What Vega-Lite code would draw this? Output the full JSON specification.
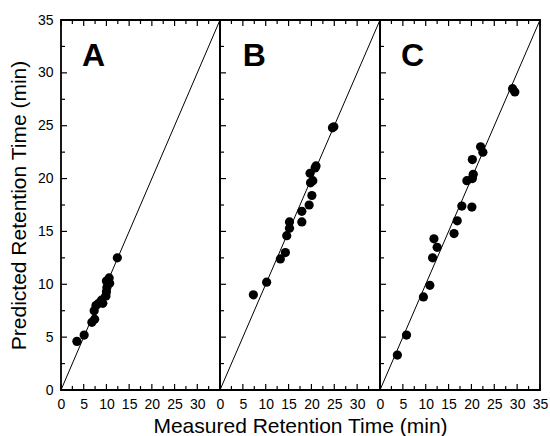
{
  "$schema": "https://vega.github.io/schema/vega-lite/v6.json",
  "background": "white",
  "padding": {"left": 7, "top": 12, "right": 2, "bottom": 4},
  "spacing": 0,
  "bounds": "flush",
  "config": {
    "view": {"stroke": "black", "strokeWidth": 1.8},
    "axis": {
      "domain": false, "grid": false, "ticks": false, "tickSize": 0, "labelFont": "Liberation Sans", "labelFontSize": 14,
      "labelColor": "black", "titleFont": "Liberation Sans", "titleFontSize": 21,
      "titleFontWeight": "normal", "titleColor": "black", "labelOverlap": false, "labelFlush": false
    },
    "point": {"filled": false, "stroke": "black", "strokeWidth": 1.2, "opacity": 1}
  },
  "datasets": {
    "points": [
      {"panel": "A", "measured": 3.5, "predicted": 4.6},
      {"panel": "A", "measured": 5.1, "predicted": 5.2},
      {"panel": "A", "measured": 6.8, "predicted": 6.4},
      {"panel": "A", "measured": 7.4, "predicted": 6.7},
      {"panel": "A", "measured": 7.3, "predicted": 7.5},
      {"panel": "A", "measured": 7.7, "predicted": 8.0},
      {"panel": "A", "measured": 8.3, "predicted": 8.2},
      {"panel": "A", "measured": 8.9, "predicted": 8.5},
      {"panel": "A", "measured": 9.2, "predicted": 8.2},
      {"panel": "A", "measured": 9.9, "predicted": 8.9},
      {"panel": "A", "measured": 10.0, "predicted": 9.3},
      {"panel": "A", "measured": 10.1, "predicted": 9.7},
      {"panel": "A", "measured": 10.0, "predicted": 10.3},
      {"panel": "A", "measured": 10.6, "predicted": 10.6},
      {"panel": "A", "measured": 10.7, "predicted": 10.1},
      {"panel": "A", "measured": 12.4, "predicted": 12.5},
      {"panel": "B", "measured": 7.3, "predicted": 9.0},
      {"panel": "B", "measured": 10.2, "predicted": 10.2},
      {"panel": "B", "measured": 13.2, "predicted": 12.4},
      {"panel": "B", "measured": 14.3, "predicted": 13.0},
      {"panel": "B", "measured": 14.6, "predicted": 14.6},
      {"panel": "B", "measured": 15.2, "predicted": 15.3},
      {"panel": "B", "measured": 15.2, "predicted": 15.9},
      {"panel": "B", "measured": 17.9, "predicted": 15.9},
      {"panel": "B", "measured": 17.9, "predicted": 16.9},
      {"panel": "B", "measured": 19.5, "predicted": 17.5},
      {"panel": "B", "measured": 20.1, "predicted": 18.4},
      {"panel": "B", "measured": 19.8, "predicted": 19.6},
      {"panel": "B", "measured": 20.3, "predicted": 19.8},
      {"panel": "B", "measured": 19.7, "predicted": 20.5},
      {"panel": "B", "measured": 20.8, "predicted": 21.0},
      {"panel": "B", "measured": 21.0, "predicted": 21.2},
      {"panel": "B", "measured": 24.6, "predicted": 24.8},
      {"panel": "B", "measured": 24.9, "predicted": 24.9},
      {"panel": "C", "measured": 3.8, "predicted": 3.3},
      {"panel": "C", "measured": 5.8, "predicted": 5.2},
      {"panel": "C", "measured": 9.5, "predicted": 8.8},
      {"panel": "C", "measured": 10.9, "predicted": 9.9},
      {"panel": "C", "measured": 11.5, "predicted": 12.5},
      {"panel": "C", "measured": 12.5, "predicted": 13.5},
      {"panel": "C", "measured": 11.8, "predicted": 14.3},
      {"panel": "C", "measured": 16.2, "predicted": 14.8},
      {"panel": "C", "measured": 16.9, "predicted": 16.0},
      {"panel": "C", "measured": 17.9, "predicted": 17.4},
      {"panel": "C", "measured": 20.1, "predicted": 17.3},
      {"panel": "C", "measured": 19.0, "predicted": 19.8},
      {"panel": "C", "measured": 20.2, "predicted": 20.0},
      {"panel": "C", "measured": 20.4, "predicted": 20.4},
      {"panel": "C", "measured": 20.2, "predicted": 21.8},
      {"panel": "C", "measured": 22.0, "predicted": 23.0},
      {"panel": "C", "measured": 22.5, "predicted": 22.5},
      {"panel": "C", "measured": 29.0, "predicted": 28.5},
      {"panel": "C", "measured": 29.5, "predicted": 28.2}
    ],
    "diag": [{"t": 0}, {"t": 35}],
    "letters": [{"panel": "A"}, {"panel": "B"}, {"panel": "C"}],
    "major": [{"v": 0}, {"v": 5}, {"v": 10}, {"v": 15}, {"v": 20}, {"v": 25}, {"v": 30}, {"v": 35}],
    "minor": [{"v": 2.5}, {"v": 7.5}, {"v": 12.5}, {"v": 17.5}, {"v": 22.5}, {"v": 27.5}, {"v": 32.5}]
  },
  "hconcat": [
    {
      "width": 159, "height": 370,
      "resolve": {"axis": {"x": "independent", "y": "independent"}},
      "layer": [
        {
          "data": {"name": "diag"},
          "mark": {"type": "line", "color": "black", "strokeWidth": 1},
          "encoding": {
            "x": {"field": "t", "type": "quantitative", "scale": {"domain": [0, 35], "nice": false}, "axis": null},
            "y": {"field": "t", "type": "quantitative", "scale": {"domain": [0, 35], "nice": false},
              "axis": {"values": [0, 5, 10, 15, 20, 25, 30, 35], "labelPadding": 8, "titlePadding": 8, "title": "Predicted Retention Time (min)"}}
          }
        },
        {
          "data": {"name": "points"},
          "transform": [{"filter": "datum.panel === 'A'"}],
          "mark": {"type": "circle", "size": 85, "color": "black", "opacity": 1},
          "encoding": {
            "x": {"field": "measured", "type": "quantitative",
              "axis": {"orient": "bottom", "values": [0, 5, 10, 15, 20, 25, 30], "labelPadding": 7, "title": null}},
            "y": {"field": "predicted", "type": "quantitative", "axis": null}
          }
        },
        {
          "data": {"name": "letters"},
          "transform": [{"filter": "datum.panel === 'A'"}],
          "mark": {"type": "text", "font": "Liberation Sans", "fontSize": 32, "fontWeight": "bold", "align": "left", "baseline": "middle", "color": "black"},
          "encoding": {
            "x": {"datum": 4.6, "type": "quantitative", "axis": null},
            "y": {"datum": 31.6, "type": "quantitative", "axis": null},
            "text": {"field": "panel"}
          }
        },
        {"data": {"name": "major"}, "mark": {"type": "point", "shape": "M0,0L0,-1", "size": 144}, "encoding": {"x": {"field": "v", "type": "quantitative", "axis": null}, "y": {"datum": 0, "type": "quantitative", "axis": null}}},
        {"data": {"name": "minor"}, "mark": {"type": "point", "shape": "M0,0L0,-1", "size": 64}, "encoding": {"x": {"field": "v", "type": "quantitative", "axis": null}, "y": {"datum": 0, "type": "quantitative", "axis": null}}},
        {"data": {"name": "major"}, "mark": {"type": "point", "shape": "M0,0L0,1", "size": 144}, "encoding": {"x": {"field": "v", "type": "quantitative", "axis": null}, "y": {"datum": 35, "type": "quantitative", "axis": null}}},
        {"data": {"name": "minor"}, "mark": {"type": "point", "shape": "M0,0L0,1", "size": 64}, "encoding": {"x": {"field": "v", "type": "quantitative", "axis": null}, "y": {"datum": 35, "type": "quantitative", "axis": null}}},
        {"data": {"name": "major"}, "mark": {"type": "point", "shape": "M0,0L1,0", "size": 144}, "encoding": {"y": {"field": "v", "type": "quantitative", "axis": null}, "x": {"datum": 0, "type": "quantitative", "axis": null}}},
        {"data": {"name": "minor"}, "mark": {"type": "point", "shape": "M0,0L1,0", "size": 64}, "encoding": {"y": {"field": "v", "type": "quantitative", "axis": null}, "x": {"datum": 0, "type": "quantitative", "axis": null}}}
      ]
    },
    {
      "width": 160, "height": 370,
      "resolve": {"axis": {"x": "independent", "y": "independent"}},
      "layer": [
        {
          "data": {"name": "diag"},
          "mark": {"type": "line", "color": "black", "strokeWidth": 1},
          "encoding": {
            "x": {"field": "t", "type": "quantitative", "scale": {"domain": [0, 35], "nice": false}, "axis": null},
            "y": {"field": "t", "type": "quantitative", "scale": {"domain": [0, 35], "nice": false}, "axis": null}
          }
        },
        {
          "data": {"name": "points"},
          "transform": [{"filter": "datum.panel === 'B'"}],
          "mark": {"type": "circle", "size": 85, "color": "black", "opacity": 1},
          "encoding": {
            "x": {"field": "measured", "type": "quantitative",
              "axis": {"orient": "bottom", "values": [0, 5, 10, 15, 20, 25, 30], "labelPadding": 7, "titlePadding": 4, "title": "Measured Retention Time (min)"}},
            "y": {"field": "predicted", "type": "quantitative", "axis": null}
          }
        },
        {
          "data": {"name": "letters"},
          "transform": [{"filter": "datum.panel === 'B'"}],
          "mark": {"type": "text", "font": "Liberation Sans", "fontSize": 32, "fontWeight": "bold", "align": "left", "baseline": "middle", "color": "black"},
          "encoding": {
            "x": {"datum": 5.0, "type": "quantitative", "axis": null},
            "y": {"datum": 31.6, "type": "quantitative", "axis": null},
            "text": {"field": "panel"}
          }
        },
        {"data": {"name": "major"}, "mark": {"type": "point", "shape": "M0,0L0,-1", "size": 144}, "encoding": {"x": {"field": "v", "type": "quantitative", "axis": null}, "y": {"datum": 0, "type": "quantitative", "axis": null}}},
        {"data": {"name": "minor"}, "mark": {"type": "point", "shape": "M0,0L0,-1", "size": 64}, "encoding": {"x": {"field": "v", "type": "quantitative", "axis": null}, "y": {"datum": 0, "type": "quantitative", "axis": null}}},
        {"data": {"name": "major"}, "mark": {"type": "point", "shape": "M0,0L0,1", "size": 144}, "encoding": {"x": {"field": "v", "type": "quantitative", "axis": null}, "y": {"datum": 35, "type": "quantitative", "axis": null}}},
        {"data": {"name": "minor"}, "mark": {"type": "point", "shape": "M0,0L0,1", "size": 64}, "encoding": {"x": {"field": "v", "type": "quantitative", "axis": null}, "y": {"datum": 35, "type": "quantitative", "axis": null}}},
        {"data": {"name": "major"}, "mark": {"type": "point", "shape": "M0,0L1,0", "size": 144}, "encoding": {"y": {"field": "v", "type": "quantitative", "axis": null}, "x": {"datum": 0, "type": "quantitative", "axis": null}}},
        {"data": {"name": "minor"}, "mark": {"type": "point", "shape": "M0,0L1,0", "size": 64}, "encoding": {"y": {"field": "v", "type": "quantitative", "axis": null}, "x": {"datum": 0, "type": "quantitative", "axis": null}}}
      ]
    },
    {
      "width": 160, "height": 370,
      "resolve": {"axis": {"x": "independent", "y": "independent"}},
      "layer": [
        {
          "data": {"name": "diag"},
          "mark": {"type": "line", "color": "black", "strokeWidth": 1},
          "encoding": {
            "x": {"field": "t", "type": "quantitative", "scale": {"domain": [0, 35], "nice": false}, "axis": null},
            "y": {"field": "t", "type": "quantitative", "scale": {"domain": [0, 35], "nice": false}, "axis": null}
          }
        },
        {
          "data": {"name": "points"},
          "transform": [{"filter": "datum.panel === 'C'"}],
          "mark": {"type": "circle", "size": 85, "color": "black", "opacity": 1},
          "encoding": {
            "x": {"field": "measured", "type": "quantitative",
              "axis": {"orient": "bottom", "values": [0, 5, 10, 15, 20, 25, 30, 35], "labelPadding": 7, "title": null}},
            "y": {"field": "predicted", "type": "quantitative", "axis": null}
          }
        },
        {
          "data": {"name": "letters"},
          "transform": [{"filter": "datum.panel === 'C'"}],
          "mark": {"type": "text", "font": "Liberation Sans", "fontSize": 32, "fontWeight": "bold", "align": "left", "baseline": "middle", "color": "black"},
          "encoding": {
            "x": {"datum": 4.6, "type": "quantitative", "axis": null},
            "y": {"datum": 31.6, "type": "quantitative", "axis": null},
            "text": {"field": "panel"}
          }
        },
        {"data": {"name": "major"}, "mark": {"type": "point", "shape": "M0,0L0,-1", "size": 144}, "encoding": {"x": {"field": "v", "type": "quantitative", "axis": null}, "y": {"datum": 0, "type": "quantitative", "axis": null}}},
        {"data": {"name": "minor"}, "mark": {"type": "point", "shape": "M0,0L0,-1", "size": 64}, "encoding": {"x": {"field": "v", "type": "quantitative", "axis": null}, "y": {"datum": 0, "type": "quantitative", "axis": null}}},
        {"data": {"name": "major"}, "mark": {"type": "point", "shape": "M0,0L0,1", "size": 144}, "encoding": {"x": {"field": "v", "type": "quantitative", "axis": null}, "y": {"datum": 35, "type": "quantitative", "axis": null}}},
        {"data": {"name": "minor"}, "mark": {"type": "point", "shape": "M0,0L0,1", "size": 64}, "encoding": {"x": {"field": "v", "type": "quantitative", "axis": null}, "y": {"datum": 35, "type": "quantitative", "axis": null}}},
        {"data": {"name": "major"}, "mark": {"type": "point", "shape": "M0,0L1,0", "size": 144}, "encoding": {"y": {"field": "v", "type": "quantitative", "axis": null}, "x": {"datum": 0, "type": "quantitative", "axis": null}}},
        {"data": {"name": "minor"}, "mark": {"type": "point", "shape": "M0,0L1,0", "size": 64}, "encoding": {"y": {"field": "v", "type": "quantitative", "axis": null}, "x": {"datum": 0, "type": "quantitative", "axis": null}}}
      ]
    }
  ]
}
